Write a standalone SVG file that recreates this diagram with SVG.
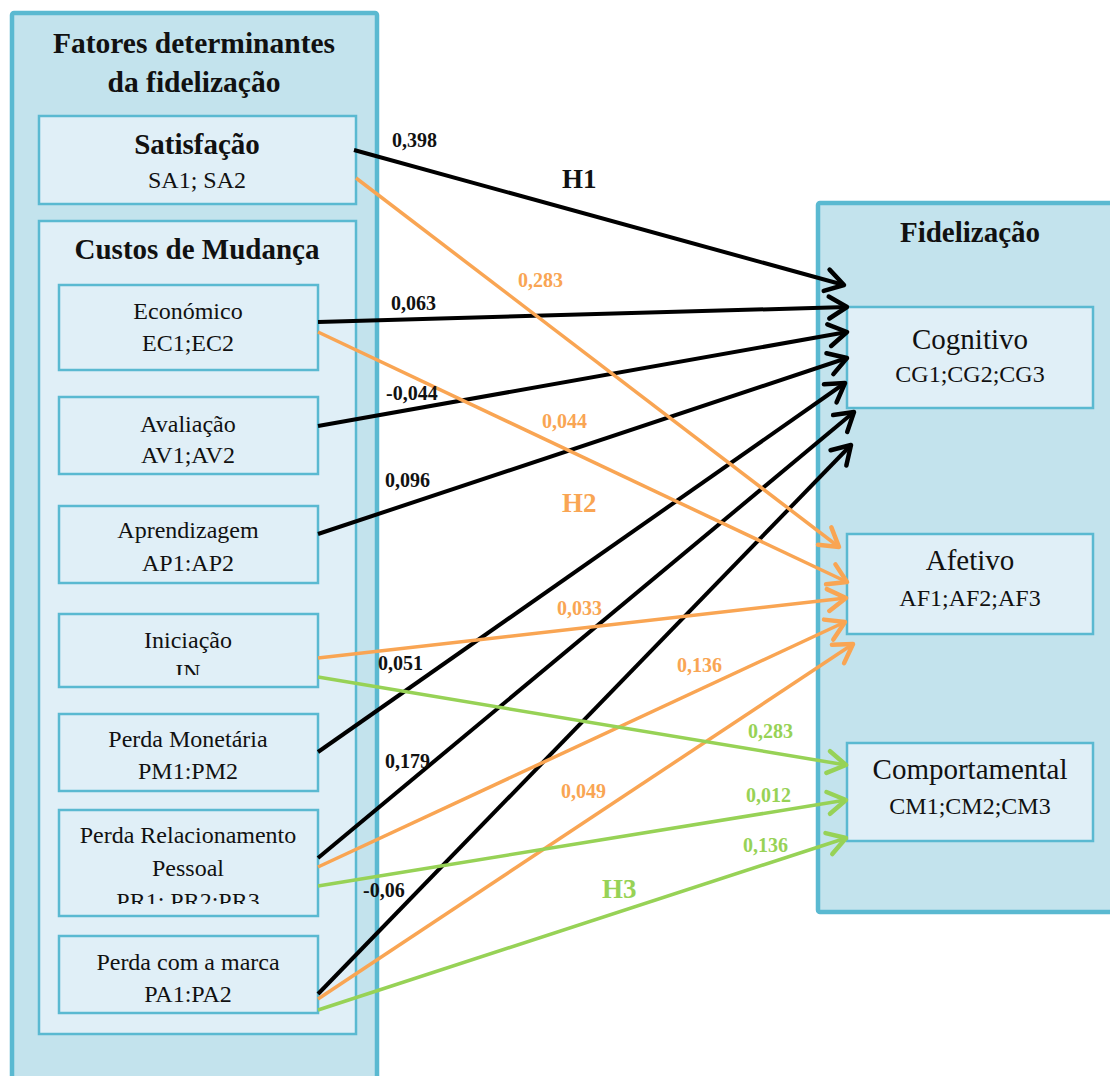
<svg xmlns="http://www.w3.org/2000/svg" width="1110" height="1076" viewBox="0 0 1110 1076">
<style>
.panel{fill:#c3e3ed;stroke:#5ab9d1;stroke-width:4.5}
.box{fill:#e0eff7;stroke:#5ab9d1;stroke-width:2.5}
text{font-family:"Liberation Serif","Times New Roman",serif;fill:#111;text-anchor:middle}
.h{font-weight:bold;font-size:29px}
.t{font-weight:bold;font-size:29.5px}
.n{font-size:24px}
.nb{font-size:29px}
.lbl{font-weight:bold;font-size:20px;text-anchor:start}
.hyp{font-weight:bold;font-size:27px;text-anchor:start}
.k{stroke:#000;stroke-width:4;fill:none}
.o{stroke:#f9a553;stroke-width:3.5;fill:none}
.g{stroke:#97d256;stroke-width:3.5;fill:none}
</style>
<defs>
<marker id="ak" markerUnits="userSpaceOnUse" viewBox="-22 -14 26 28" refX="0" refY="0" markerWidth="26" markerHeight="28" orient="auto"><path d="M-18,-11 L0,0 L-18,11" fill="none" stroke="#000" stroke-width="4.5" stroke-linecap="round" stroke-linejoin="round"/></marker>
<marker id="ao" markerUnits="userSpaceOnUse" viewBox="-22 -14 26 28" refX="0" refY="0" markerWidth="26" markerHeight="28" orient="auto"><path d="M-18,-11 L0,0 L-18,11" fill="none" stroke="#f9a553" stroke-width="4.5" stroke-linecap="round" stroke-linejoin="round"/></marker>
<marker id="ag" markerUnits="userSpaceOnUse" viewBox="-22 -14 26 28" refX="0" refY="0" markerWidth="26" markerHeight="28" orient="auto"><path d="M-18,-11 L0,0 L-18,11" fill="none" stroke="#97d256" stroke-width="4.5" stroke-linecap="round" stroke-linejoin="round"/></marker>
<clipPath id="cIN"><rect x="59" y="614" width="259" height="61"/></clipPath>
<clipPath id="cPR"><rect x="59" y="810" width="259" height="94"/></clipPath>
</defs>

<g id="fatores">
<rect class="panel" x="12" y="13" width="365" height="1080" rx="2"/>
<text class="t" x="194" y="53">Fatores determinantes</text>
<text class="t" x="194" y="92">da fidelização</text>
</g>

<g id="satisfacao">
<rect class="box" x="39" y="116" width="317" height="88"/>
<text class="h" x="197" y="154">Satisfação</text>
<text class="n" x="197" y="188">SA1; SA2</text>
</g>

<g id="custos">
<rect class="box" x="39" y="221" width="317" height="813"/>
<text class="h" x="197" y="259">Custos de Mudança</text>
</g>

<g id="economico">
<rect class="box" x="59" y="285" width="259" height="85"/>
<text class="n" x="188" y="319">Económico</text>
<text class="n" x="188" y="351">EC1;EC2</text>
</g>

<g id="avaliacao">
<rect class="box" x="59" y="397" width="259" height="77"/>
<text class="n" x="188" y="432">Avaliação</text>
<text class="n" x="188" y="463">AV1;AV2</text>
</g>

<g id="aprendizagem">
<rect class="box" x="59" y="506" width="259" height="77"/>
<text class="n" x="188" y="538">Aprendizagem</text>
<text class="n" x="188" y="571">AP1:AP2</text>
</g>

<g id="iniciacao">
<rect class="box" x="59" y="614" width="259" height="73"/>
<text class="n" x="188" y="648">Iniciação</text>
<text class="n" x="188" y="680" clip-path="url(#cIN)">IN</text>
</g>

<g id="perda-monetaria">
<rect class="box" x="59" y="714" width="259" height="77"/>
<text class="n" x="188" y="747">Perda Monetária</text>
<text class="n" x="188" y="779">PM1:PM2</text>
</g>

<g id="perda-relacionamento">
<rect class="box" x="59" y="810" width="259" height="106"/>
<text class="n" x="188" y="843">Perda Relacionamento</text>
<text class="n" x="188" y="876">Pessoal</text>
<text class="n" x="188" y="909" clip-path="url(#cPR)">PR1; PR2;PR3</text>
</g>

<g id="perda-marca">
<rect class="box" x="59" y="936" width="259" height="77"/>
<text class="n" x="188" y="970">Perda com a marca</text>
<text class="n" x="188" y="1002">PA1:PA2</text>
</g>

<g id="fidelizacao">
<rect class="panel" x="818" y="203" width="320" height="709" rx="2"/>
<text class="h" x="970" y="242">Fidelização</text>
</g>

<g id="cognitivo">
<rect class="box" x="847" y="307" width="246" height="101"/>
<text class="nb" x="970" y="349">Cognitivo</text>
<text class="n" x="970" y="382">CG1;CG2;CG3</text>
</g>

<g id="afetivo">
<rect class="box" x="847" y="534" width="246" height="100"/>
<text class="nb" x="970" y="570">Afetivo</text>
<text class="n" x="970" y="606">AF1;AF2;AF3</text>
</g>

<g id="comportamental">
<rect class="box" x="847" y="743" width="246" height="98"/>
<text class="nb" x="970" y="779">Comportamental</text>
<text class="n" x="970" y="814">CM1;CM2;CM3</text>
</g>

<g id="connectors">
<line class="k" x1="354" y1="150" x2="844" y2="285" marker-end="url(#ak)"/>
<line class="k" x1="318" y1="322" x2="847" y2="307" marker-end="url(#ak)"/>
<line class="k" x1="318" y1="426" x2="847" y2="332" marker-end="url(#ak)"/>
<line class="k" x1="318" y1="534" x2="847" y2="358" marker-end="url(#ak)"/>
<line class="k" x1="318" y1="752" x2="845" y2="383" marker-end="url(#ak)"/>
<line class="k" x1="318" y1="858" x2="854" y2="412" marker-end="url(#ak)"/>
<line class="k" x1="318" y1="994" x2="851" y2="445" marker-end="url(#ak)"/>

<line class="o" x1="356" y1="178" x2="839" y2="547" marker-end="url(#ao)"/>
<line class="o" x1="318" y1="332" x2="847" y2="582" marker-end="url(#ao)"/>
<line class="o" x1="318" y1="658" x2="846" y2="598" marker-end="url(#ao)"/>
<line class="o" x1="318" y1="867" x2="845" y2="622" marker-end="url(#ao)"/>
<line class="o" x1="318" y1="999" x2="853" y2="644" marker-end="url(#ao)"/>

<line class="g" x1="318" y1="677" x2="846" y2="765" marker-end="url(#ag)"/>
<line class="g" x1="318" y1="886" x2="846" y2="800" marker-end="url(#ag)"/>
<line class="g" x1="318" y1="1010" x2="846" y2="838" marker-end="url(#ag)"/>

<text class="lbl" x="392" y="147">0,398</text>
<text class="hyp" x="562" y="188">H1</text>
<text class="lbl" x="518" y="287" style="fill:#f9a553">0,283</text>
<text class="lbl" x="391" y="310">0,063</text>
<text class="lbl" x="386" y="400">-0,044</text>
<text class="lbl" x="542" y="428" style="fill:#f9a553">0,044</text>
<text class="lbl" x="385" y="487">0,096</text>
<text class="hyp" x="562" y="512" style="fill:#f9a553">H2</text>
<text class="lbl" x="557" y="615" style="fill:#f9a553">0,033</text>
<text class="lbl" x="378" y="670">0,051</text>
<text class="lbl" x="677" y="672" style="fill:#f9a553">0,136</text>
<text class="lbl" x="748" y="738" style="fill:#97d256">0,283</text>
<text class="lbl" x="385" y="768">0,179</text>
<text class="lbl" x="561" y="798" style="fill:#f9a553">0,049</text>
<text class="lbl" x="746" y="802" style="fill:#97d256">0,012</text>
<text class="lbl" x="743" y="852" style="fill:#97d256">0,136</text>
<text class="lbl" x="363" y="897">-0,06</text>
<text class="hyp" x="602" y="898" style="fill:#97d256">H3</text>
</g>
</svg>
